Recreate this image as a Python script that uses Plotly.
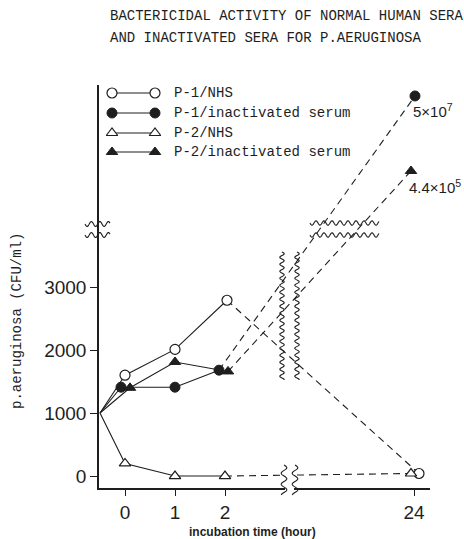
import numpy as np
import plotly.graph_objects as go

# ---------------- data ----------------
TIME_H = [-0.5, 0, 1, 2, 24]          # incubation time (hour); -0.5 = starting inoculum at the axis
SERIES = ["P-1/NHS", "P-1/inactivated serum", "P-2/NHS", "P-2/inactivated serum"]
P1_NHS = [1000, 1600, 2010, 2790, 40]
P1_INACT = [1000, 1410, 1410, 1680, 5e7]
P2_NHS = [1000, 200, 0, 0, 40]
P2_INACT = [1000, 1400, 1810, 1660, 4.4e5]
VALUES = [P1_NHS, P1_INACT, P2_NHS, P2_INACT]
X_TICK_HOURS = [0, 1, 2, 24]
X_TICK_TEXT = ["0", "1", "2", "24"]
Y_TICKS = [0, 1000, 2000, 3000]
Y_TICK_TEXT = ["0", "1000", "2000", "3000"]
TOP_LABELS = {1: "5×10<sup>7</sup>", 3: "4.4×10<sup>5</sup>"}

# ---------------- styles ----------------
INK = "#1e1e1e"
NUDGE = [  # small horizontal display offsets (hours) the original used to keep markers apart
    [0, 0, 0, 0.04, 0.10],
    [0, -0.08, 0, -0.12, 0.02],
    [0, 0, 0, 0, -0.06],
    [0, 0.10, 0, 0.06, -0.06],
]
MARKERS = [
    dict(symbol="circle", color="white", size=10, line=dict(color=INK, width=1.2)),
    dict(symbol="circle", color=INK, size=10, line=dict(color=INK, width=1)),
    dict(symbol="triangle-up", color="white", size=10, line=dict(color=INK, width=1.2)),
    dict(symbol="triangle-up", color=INK, size=10, line=dict(color=INK, width=1)),
]
DASH = "7px,5px"

# ---------------- broken-axis scales ----------------
X24_POS = 5.78       # where hour 24 sits after the time-axis break


def bx(h):
    return h if h <= 3 else X24_POS + (h - 24)


Y_B = 579.4          # units per decade in the upper (log) part
Y_A = 4841 - Y_B * np.log10(4.4e5)


def by(v):
    return v if v <= 4000 else Y_A + Y_B * np.log10(v)


# plot area in pixels
L, R, T, B = 99, 430, 85, 488
W, H = R - L, B - T


def pp(px, py):
    return (px - L) / W, (B - py) / H


fig = go.Figure()

# dashed segments (2 h -> 24 h)
for i, vals in enumerate(VALUES):
    xs = [bx(TIME_H[k]) + NUDGE[i][k] for k in (3, 4)]
    ys = [by(vals[k]) for k in (3, 4)]
    fig.add_trace(go.Scatter(x=xs, y=ys, mode="lines", showlegend=False,
                             line=dict(color=INK, width=1.1, dash=DASH)))
# solid segments
for i, vals in enumerate(VALUES):
    xs = [bx(TIME_H[k]) + NUDGE[i][k] for k in range(4)]
    ys = [by(vals[k]) for k in range(4)]
    fig.add_trace(go.Scatter(x=xs, y=ys, mode="lines", showlegend=False,
                             line=dict(color=INK, width=1.1)))
# markers
for i, vals in enumerate(VALUES):
    xs = [bx(TIME_H[k]) + NUDGE[i][k] for k in range(1, 5)]
    ys = [by(vals[k]) for k in range(1, 5)]
    fig.add_trace(go.Scatter(x=xs, y=ys, mode="markers", name=SERIES[i], showlegend=False,
                             marker=MARKERS[i], cliponaxis=False))

# custom legend (sample line with a marker at each end), drawn on a pixel overlay axis
LEG_ROWS = [93, 113, 133, 152]
for i, name in enumerate(SERIES):
    fig.add_trace(go.Scatter(x=[112, 155], y=[LEG_ROWS[i]] * 2, mode="lines+markers",
                             xaxis="x2", yaxis="y2", showlegend=False,
                             line=dict(color=INK, width=1.1), marker=MARKERS[i]))
    fig.add_annotation(x=172, y=LEG_ROWS[i], xref="x2", yref="y2", text=name,
                       showarrow=False, xanchor="left", yanchor="middle",
                       font=dict(family="Liberation Mono, Courier New, monospace", size=14, color=INK))

# value labels at 24 h for the off-scale points
for i, txt in TOP_LABELS.items():
    fig.add_annotation(x=bx(TIME_H[4]) + NUDGE[i][4], y=by(VALUES[i][4]), text=txt,
                       showarrow=False, xanchor="left", yanchor="middle", xshift=-4, yshift=-15,
                       font=dict(family="Liberation Sans, Arial, sans-serif", size=15, color=INK))

# ---------------- break symbols (decoration) ----------------
shapes = []


def wavy(points):
    s = ""
    for j, (px, py) in enumerate(points):
        a, b = pp(px, py)
        s += ("M" if j == 0 else "L") + f"{a:.5f},{b:.5f} "
    return s


def wavy_v(x0, y0, y1, amp, period):
    ys = np.linspace(y0, y1, int(abs(y1 - y0) * 2) + 2)
    return wavy([(x0 + amp * np.sin(2 * np.pi * (y - y0) / period), y) for y in ys])


def wavy_h(y0, x0, x1, amp, period):
    xs = np.linspace(x0, x1, int(abs(x1 - x0) * 2) + 2)
    return wavy([(x, y0 + amp * np.sin(2 * np.pi * (x - x0) / period)) for x in xs])


# white gap in the x axis at the time break
gx0, gy0 = pp(285, 468)
gx1, gy1 = pp(294, 494)
shapes.append(dict(type="rect", xref="paper", yref="paper", x0=gx0, x1=gx1, y0=gy0, y1=gy1,
                   fillcolor="white", line=dict(width=0), layer="above"))
for path in [
    wavy_v(282, 252, 380, 2.2, 7), wavy_v(297, 252, 380, 2.2, 7),
    wavy_v(284, 465, 495, 2.8, 11), wavy_v(295, 465, 495, 2.8, 11),
    wavy_h(223, 310, 379, 2.2, 8), wavy_h(235, 310, 379, 2.2, 8),
    wavy_h(224, 85, 110, 2.5, 8.5), wavy_h(235, 85, 110, 2.5, 8.5),
]:
    shapes.append(dict(type="path", path=path, xref="paper", yref="paper",
                       line=dict(color=INK, width=1.1), layer="above"))

# ---------------- titles ----------------
for txt, py in [("BACTERICIDAL ACTIVITY OF NORMAL HUMAN SERA", 16),
                ("AND INACTIVATED SERA FOR P.AERUGINOSA", 38)]:
    ax_, ay_ = pp(108, py)
    fig.add_annotation(x=ax_, y=ay_, xref="paper", yref="paper", text=txt, showarrow=False,
                       xanchor="left", yanchor="middle",
                       font=dict(family="Liberation Mono, Courier New, monospace", size=14, color=INK))
ax_, ay_ = pp(17, 321)
fig.add_annotation(x=ax_, y=ay_, xref="paper", yref="paper", text="p.aeruginosa (CFU/ml)",
                   showarrow=False, textangle=-90, xanchor="center", yanchor="middle",
                   font=dict(family="Liberation Mono, Courier New, monospace", size=14, color=INK))
ax_, ay_ = pp(252, 532)
fig.add_annotation(x=ax_, y=ay_, xref="paper", yref="paper", text="<b>incubation time (hour)</b>",
                   showarrow=False, xanchor="center", yanchor="middle",
                   font=dict(family="Liberation Sans, Arial, sans-serif", size=12, color=INK))

tickfont = dict(family="Liberation Sans, Arial, sans-serif", size=19, color=INK)
fig.update_layout(
    width=464, height=539, autosize=False,
    margin=dict(l=L, r=464 - R, t=T, b=539 - B, pad=0),
    paper_bgcolor="white", plot_bgcolor="white",
    shapes=shapes,
    xaxis=dict(range=[-0.52, 6.1], showline=True, linecolor=INK, linewidth=1.5,
               ticks="outside", ticklen=6, tickwidth=1.3, tickcolor=INK,
               tickvals=[bx(h) for h in X_TICK_HOURS], ticktext=X_TICK_TEXT,
               showgrid=False, zeroline=False, tickfont=tickfont, fixedrange=True),
    yaxis=dict(range=[-190, 6206], showline=True, linecolor=INK, linewidth=1.5,
               ticks="outside", ticklen=7, tickwidth=1.3, tickcolor=INK,
               tickvals=Y_TICKS, ticktext=Y_TICK_TEXT,
               showgrid=False, zeroline=False, tickfont=tickfont, fixedrange=True),
    xaxis2=dict(range=[L, R], overlaying="x", visible=False, fixedrange=True),
    yaxis2=dict(range=[B, T], overlaying="y", visible=False, fixedrange=True),
    showlegend=False,
)

fig.write_html("out.html", config={"displayModeBar": False},
               post_script="document.body.style.margin='0';document.body.style.overflow='hidden';")
